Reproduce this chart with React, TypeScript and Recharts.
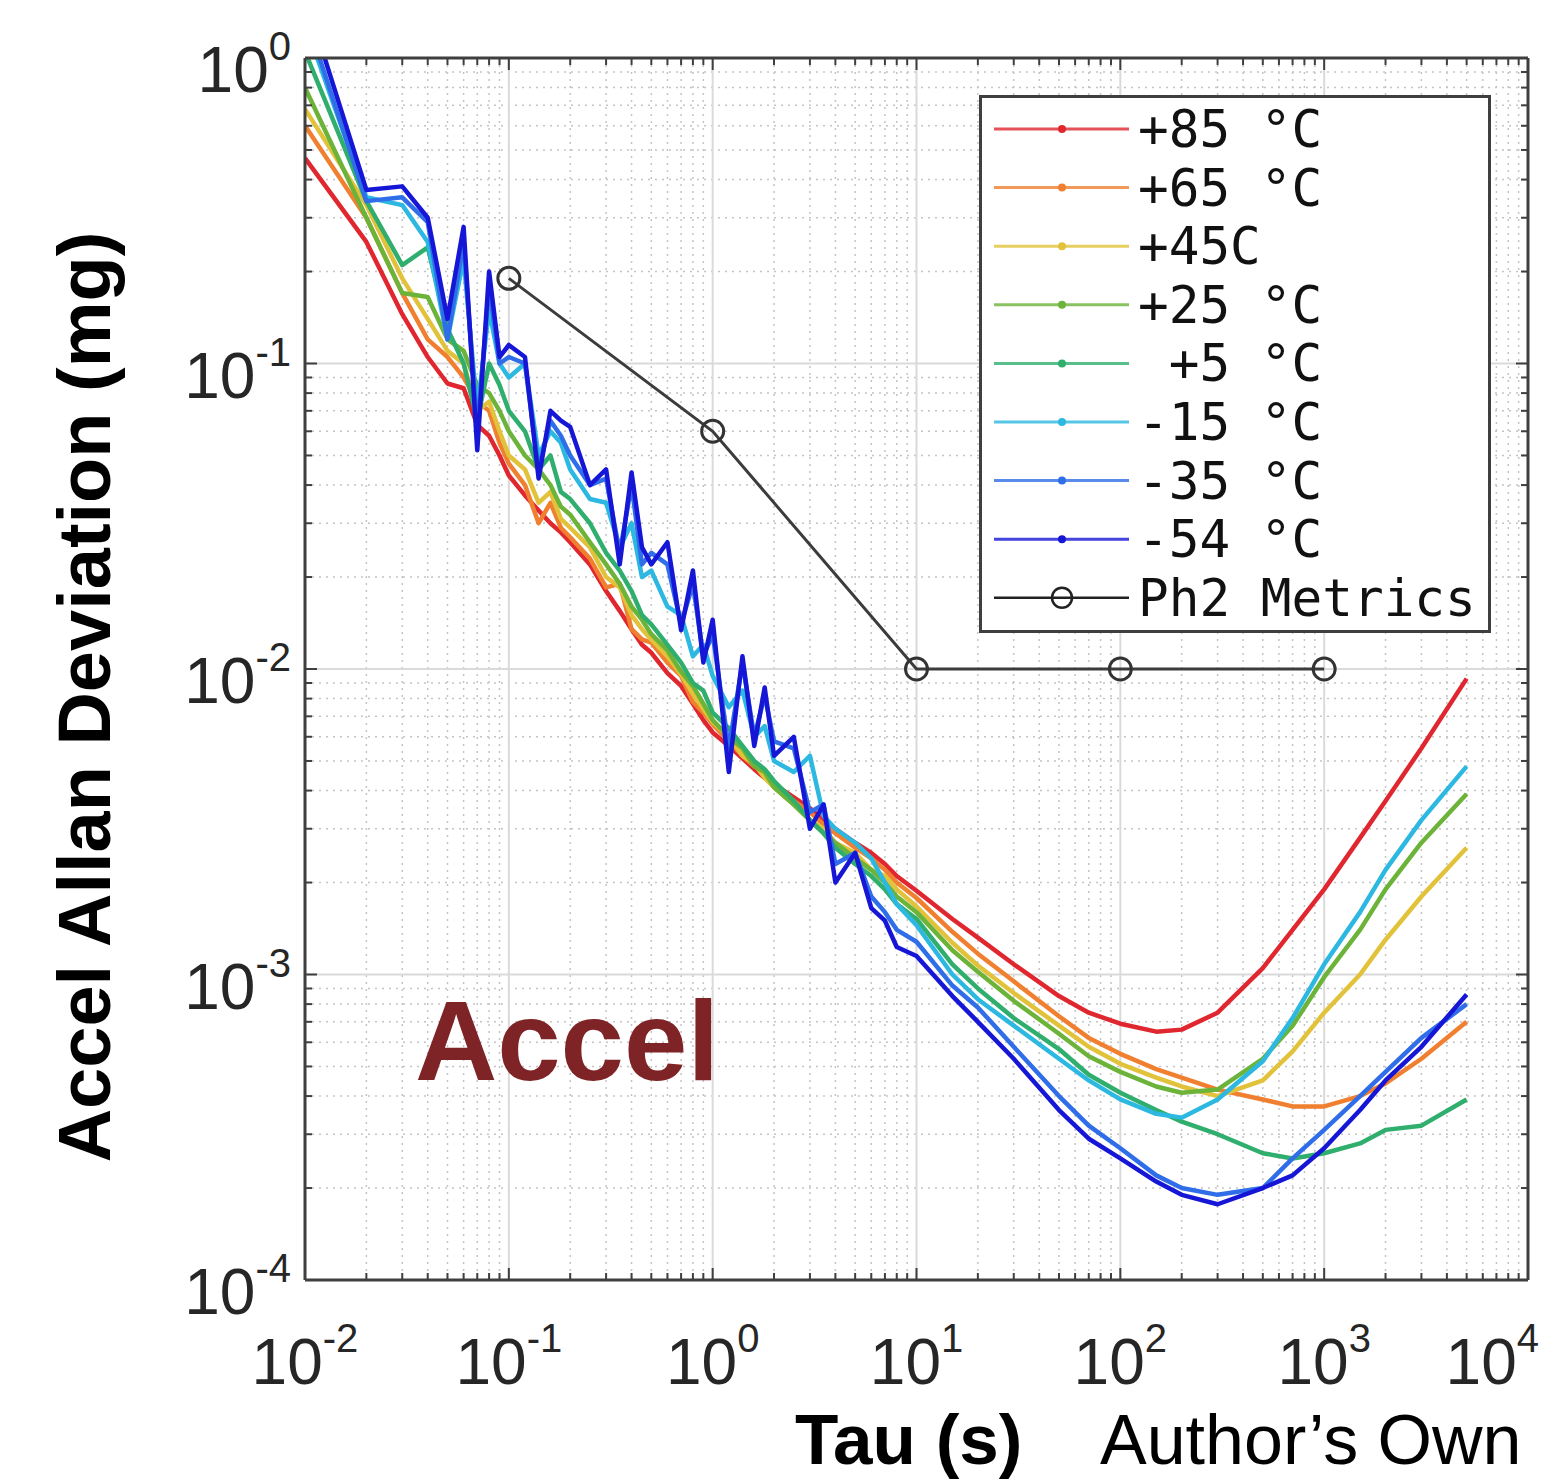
import {
  LineChart,
  Line,
  XAxis,
  YAxis,
  CartesianGrid,
  ReferenceLine,
  ReferenceDot,
  Legend,
} from "recharts";

// averaging time (s)
const tau = [
  0.01, 0.02, 0.03, 0.04, 0.05, 0.06, 0.07, 0.08, 0.09,
  0.1, 0.12, 0.14, 0.16, 0.18, 0.2,
  0.25, 0.3, 0.35, 0.4, 0.45, 0.5,
  0.6, 0.7, 0.8, 0.9, 1,
  1.2, 1.4, 1.6, 1.8, 2,
  2.5, 3, 3.5, 4,
  5, 6, 7, 8, 10,
  15, 20, 30, 50, 70, 100,
  150, 200, 300, 500, 700, 1000,
  1500, 2000, 3000, 5000,
];

// allan deviation (mg) per temperature
const plus85 = [
  0.47, 0.25, 0.145, 0.105, 0.086, 0.083, 0.063, 0.058, 0.05,
  0.043, 0.037, 0.033, 0.03, 0.028, 0.026,
  0.022, 0.018, 0.0155, 0.0135, 0.012, 0.0113,
  0.0097, 0.0088, 0.0077, 0.0068, 0.0062,
  0.0056, 0.0051, 0.0047, 0.0044, 0.0042,
  0.0038, 0.0035, 0.0032, 0.003,
  0.0027, 0.0025, 0.0023, 0.0021, 0.00188,
  0.00152, 0.00132, 0.00108, 0.00085, 0.00075, 0.00069,
  0.00065, 0.00066, 0.00075, 0.00105, 0.0014, 0.0019,
  0.0028, 0.0037, 0.0055, 0.0093,
];
const plus65 = [
  0.6, 0.3, 0.17, 0.12, 0.105, 0.09, 0.075, 0.07, 0.055,
  0.047, 0.04, 0.03, 0.035, 0.029, 0.027,
  0.023, 0.0185, 0.019, 0.0135, 0.0125, 0.0122,
  0.0105, 0.0095, 0.0078, 0.0072, 0.0066,
  0.0058, 0.0052, 0.0048, 0.0046, 0.0042,
  0.0037, 0.0034, 0.0031, 0.0029,
  0.0026, 0.0024, 0.0022, 0.002, 0.00178,
  0.00138, 0.00117, 0.00095, 0.00073, 0.00062, 0.00055,
  0.00049, 0.00046, 0.00042, 0.00039, 0.00037, 0.00037,
  0.0004, 0.00044, 0.00053, 0.0007,
];
const plus45 = [
  0.68, 0.33, 0.19, 0.14, 0.11, 0.1, 0.07, 0.075, 0.06,
  0.05, 0.045, 0.035, 0.038, 0.031, 0.029,
  0.025, 0.02, 0.0185, 0.015, 0.0135, 0.0125,
  0.011, 0.0096, 0.0083, 0.0074, 0.0067,
  0.006, 0.0052, 0.0049, 0.0044, 0.0041,
  0.0036, 0.0032, 0.003, 0.0027,
  0.0025, 0.0022, 0.0021, 0.0019, 0.00167,
  0.00127, 0.00107, 0.00087, 0.00068, 0.00058, 0.00051,
  0.00046, 0.00043, 0.0004, 0.00045, 0.00056, 0.00075,
  0.001, 0.0013, 0.0018, 0.0026,
];
const plus25 = [
  0.8, 0.3, 0.17, 0.165, 0.12, 0.11, 0.085, 0.08, 0.07,
  0.06, 0.05, 0.045, 0.04, 0.034, 0.032,
  0.026, 0.022, 0.019, 0.016, 0.0145, 0.013,
  0.0115, 0.0098, 0.0088, 0.0077, 0.0068,
  0.006, 0.0055, 0.0048, 0.0046, 0.0041,
  0.0036, 0.0032, 0.0029, 0.0027,
  0.0024, 0.0022, 0.002, 0.0018, 0.0016,
  0.0012, 0.00102, 0.00082, 0.00064, 0.00054, 0.00048,
  0.00043, 0.00041, 0.00042, 0.00053, 0.00068, 0.00098,
  0.0014, 0.0019, 0.0027, 0.0039,
];
const plus5 = [
  1.05, 0.34, 0.21, 0.24, 0.13, 0.1, 0.065, 0.1, 0.085,
  0.07, 0.06, 0.045, 0.05, 0.038, 0.036,
  0.03, 0.024, 0.021, 0.018, 0.015, 0.014,
  0.012, 0.0105, 0.009, 0.0085, 0.0072,
  0.0064, 0.0056, 0.005, 0.0047, 0.0043,
  0.0037, 0.0032, 0.0029, 0.0026,
  0.0023, 0.0021, 0.0019, 0.0017, 0.00152,
  0.00108, 0.0009, 0.00072, 0.00057, 0.00047, 0.00041,
  0.00036, 0.00033, 0.0003, 0.00026, 0.00025, 0.00026,
  0.00028, 0.00031, 0.00032, 0.00039,
];
const minus15 = [
  1.3, 0.35, 0.33, 0.25, 0.12, 0.22, 0.07, 0.15, 0.1,
  0.09, 0.1, 0.05, 0.06, 0.055, 0.045,
  0.036, 0.035, 0.025, 0.03, 0.02, 0.021,
  0.016, 0.015, 0.011, 0.012, 0.0095,
  0.0075, 0.0085, 0.006, 0.0065, 0.005,
  0.0046, 0.0052, 0.0033, 0.003,
  0.0027, 0.0024, 0.002, 0.0017, 0.00145,
  0.001, 0.00083, 0.00068, 0.00053, 0.00045, 0.00039,
  0.00035, 0.00034, 0.00039, 0.00052, 0.00072, 0.00108,
  0.0016, 0.0022, 0.0032, 0.0048,
];
const minus35 = [
  1.4, 0.34, 0.35, 0.29, 0.12, 0.25, 0.06, 0.18, 0.1,
  0.105, 0.1, 0.045, 0.065, 0.058, 0.05,
  0.04, 0.042, 0.024, 0.04, 0.022, 0.024,
  0.022, 0.014, 0.019, 0.011, 0.013,
  0.0055, 0.0105, 0.006, 0.0082, 0.0058,
  0.0055, 0.0034, 0.0036, 0.0023,
  0.0025, 0.0018, 0.0016, 0.0014, 0.00128,
  0.00092, 0.00078, 0.00058, 0.0004, 0.00032, 0.00027,
  0.00022, 0.0002, 0.00019, 0.0002, 0.00025, 0.00031,
  0.0004, 0.00048, 0.00062, 0.0008,
];
const minus54 = [
  1.6, 0.37, 0.38, 0.3, 0.14, 0.28, 0.052, 0.2, 0.105,
  0.115, 0.105, 0.042, 0.07, 0.065, 0.062,
  0.04, 0.045, 0.022, 0.044, 0.025, 0.022,
  0.026, 0.0134, 0.021, 0.0105, 0.0145,
  0.0046, 0.011, 0.0056, 0.0087, 0.0052,
  0.006, 0.003, 0.0036, 0.002,
  0.0025, 0.00165, 0.0015, 0.00123, 0.00115,
  0.00085, 0.0007, 0.00053, 0.00036, 0.00029, 0.00025,
  0.00021, 0.00019, 0.000177, 0.0002, 0.00022, 0.00027,
  0.00036, 0.00045, 0.00058, 0.00086,
];

// Ph2 requirement points
const metricTau = [0.1, 1, 10, 100, 1000];
const metricVal = [0.19, 0.06, 0.01, 0.01, 0.01];

const xMajor = [0.01, 0.1, 1, 10, 100, 1000, 10000];
const yMajor = [0.0001, 0.001, 0.01, 0.1, 1];

const series = [
  { key: "p85", label: "+85 °C", color: "#e0262e", values: plus85 },
  { key: "p65", label: "+65 °C", color: "#f08030", values: plus65 },
  { key: "p45", label: "+45C", color: "#e2c23a", values: plus45 },
  { key: "p25", label: "+25 °C", color: "#6cb33a", values: plus25 },
  { key: "p5", label: " +5 °C", color: "#2fae6e", values: plus5 },
  { key: "m15", label: "-15 °C", color: "#2cb8e0", values: minus15 },
  { key: "m35", label: "-35 °C", color: "#2f6ee8", values: minus35 },
  { key: "m54", label: "-54 °C", color: "#1616d6", values: minus54 },
];

// layout (pixels)
const W = 1542;
const H = 1482;
const LEFT = 305;
const RIGHT = 1528;
const TOP = 58;
const BOTTOM = 1280;
const FRAME = "#3f3f3f";
const TICK_TXT = "#262626";
const SANS = "'Liberation Sans', Arial, sans-serif";
const MONO = "'DejaVu Sans Mono', monospace";

const steps = [2, 3, 4, 5, 6, 7, 8, 9];
const xMinor = xMajor.slice(0, -1).flatMap((d) => steps.map((m) => +(d * m).toPrecision(3)));
const yMinor = yMajor.slice(0, -1).flatMap((d) => steps.map((m) => +(d * m).toPrecision(3)));

function expOf(v: number) {
  const e = Math.round(Math.log10(v));
  return { e, major: Math.abs(Math.log10(v) - e) < 1e-6 };
}

function XTick(props: any) {
  const { x, payload } = props;
  const { e, major } = expOf(payload.value);
  const len = major ? 12 : 7;
  // last label would run past the page edge, so pin it to the edge
  const atEdge = x > W - 60;
  return (
    <g>
      <line x1={x} x2={x} y1={BOTTOM} y2={BOTTOM - len} stroke={FRAME} strokeWidth={2} />
      <line x1={x} x2={x} y1={TOP} y2={TOP + len} stroke={FRAME} strokeWidth={2} />
      {major && (
        <text
          x={atEdge ? W - 3 : x}
          y={BOTTOM + 104}
          textAnchor={atEdge ? "end" : "middle"}
          fill={TICK_TXT}
          fontFamily={SANS}
        >
          <tspan fontSize={64}>10</tspan>
          <tspan fontSize={40} dy={-32}>{e}</tspan>
        </text>
      )}
    </g>
  );
}

function YTick(props: any) {
  const { y, payload } = props;
  const { e, major } = expOf(payload.value);
  const len = major ? 12 : 7;
  return (
    <g>
      <line x1={LEFT} x2={LEFT + len} y1={y} y2={y} stroke={FRAME} strokeWidth={2} />
      <line x1={RIGHT} x2={RIGHT - len} y1={y} y2={y} stroke={FRAME} strokeWidth={2} />
      {major && (
        <text x={LEFT - 14} y={y + 34} textAnchor="end" fill={TICK_TXT} fontFamily={SANS}>
          <tspan fontSize={64}>10</tspan>
          <tspan fontSize={40} dy={-32}>{e}</tspan>
        </text>
      )}
    </g>
  );
}

function LegendBox() {
  const rowH = 58.6;
  const rows = [...series.map((s) => ({ label: s.label, color: s.color, metric: false })), { label: "Ph2 Metrics", color: "#222", metric: true }];
  return (
    <svg width={512} height={538} style={{ display: "block" }}>
      <rect x={1.5} y={1.5} width={509} height={535} fill="#fff" stroke={FRAME} strokeWidth={3} />
      {rows.map((r, i) => {
        const cy = 34 + i * rowH;
        return (
          <g key={r.label}>
            <line x1={15} x2={150} y1={cy} y2={cy} stroke={r.color} strokeWidth={r.metric ? 2.5 : 3} opacity={r.metric ? 1 : 0.8} />
            {r.metric ? (
              <circle cx={83} cy={cy} r={10} fill="none" stroke={r.color} strokeWidth={2.5} />
            ) : (
              <circle cx={83} cy={cy} r={4} fill={r.color} />
            )}
            <text x={159} y={cy + 18} fontFamily={MONO} fontSize={51} fill="#111" style={{ whiteSpace: "pre" }}>
              {r.label}
            </text>
          </g>
        );
      })}
    </svg>
  );
}

export default function App() {
  const metricRows = metricTau.map((t, i) => ({ tau: t, v: metricVal[i] }));
  return (
    <div style={{ position: "absolute", left: 0, top: 0, width: W, height: H, background: "#fff" }}>
      <LineChart width={W} height={H} margin={{ top: TOP, right: W - RIGHT, bottom: 0, left: 0 }}>
        <CartesianGrid horizontalValues={yMinor} verticalValues={xMinor} stroke="#c4c4c4" strokeDasharray="2 5" strokeWidth={1.5} />
        <CartesianGrid horizontalValues={yMajor} verticalValues={xMajor} stroke="#dadada" strokeWidth={2} />
        <XAxis
          dataKey="tau"
          type="number"
          scale="log"
          domain={[0.01, 10000]}
          allowDataOverflow
          ticks={[...xMajor, ...xMinor]}
          interval={0}
          tick={XTick}
          tickLine={false}
          axisLine={false}
          tickSize={0}
          height={H - BOTTOM}
          label={() => (
            <g fontFamily={SANS}>
              <text x={795} y={1464} fontSize={71} fontWeight="bold" fill="#000">Tau (s)</text>
              <text x={1100} y={1464} fontSize={70} fill="#000">Author’s Own</text>
            </g>
          )}
        />
        <YAxis
          type="number"
          scale="log"
          domain={[0.0001, 1]}
          allowDataOverflow
          ticks={[...yMajor, ...yMinor]}
          interval={0}
          tick={YTick}
          tickLine={false}
          axisLine={false}
          tickSize={0}
          width={LEFT}
          label={() => (
            <text
              x={110}
              y={697}
              transform="rotate(-90 110 697)"
              textAnchor="middle"
              fontFamily={SANS}
              fontSize={74}
              fontWeight="bold"
              fill="#000"
            >
              Accel Allan Deviation (mg)
            </text>
          )}
        />
        {series.map((s) => (
          <Line
            key={s.key}
            data={tau.map((t, i) => ({ tau: t, v: s.values[i] }))}
            dataKey="v"
            name={s.label}
            type="linear"
            stroke={s.color}
            strokeWidth={4.5}
            strokeLinejoin="round"
            dot={false}
            activeDot={false}
            isAnimationActive={false}
          />
        ))}
        <Line
          data={metricRows}
          dataKey="v"
          name="Ph2 Metrics"
          type="linear"
          stroke="#3c3c3c"
          strokeWidth={3}
          dot={{ r: 11, fill: "none", stroke: "#333", strokeWidth: 3 }}
          activeDot={false}
          isAnimationActive={false}
        />
        <ReferenceLine x={0.01} stroke={FRAME} strokeWidth={3} />
        <ReferenceLine x={10000} stroke={FRAME} strokeWidth={3} />
        <ReferenceLine y={0.0001} stroke={FRAME} strokeWidth={3} />
        <ReferenceLine y={1} stroke={FRAME} strokeWidth={3} />
        <ReferenceDot
          x={0.0346}
          y={0.000452}
          r={0}
          fill="none"
          stroke="none"
          label={(p: any) => (
            <text x={p.viewBox?.x ?? 415} y={p.viewBox?.y ?? 1080} fontFamily={SANS} fontSize={114} fontWeight="bold" fill="#7f2426">
              Accel
            </text>
          )}
        />
        <Legend
          layout="horizontal"
          verticalAlign="middle"
          align="center"
          content={() => <LegendBox />}
          wrapperStyle={{ left: 979, top: 95, width: 512, height: 538 }}
        />
      </LineChart>
    </div>
  );
}
